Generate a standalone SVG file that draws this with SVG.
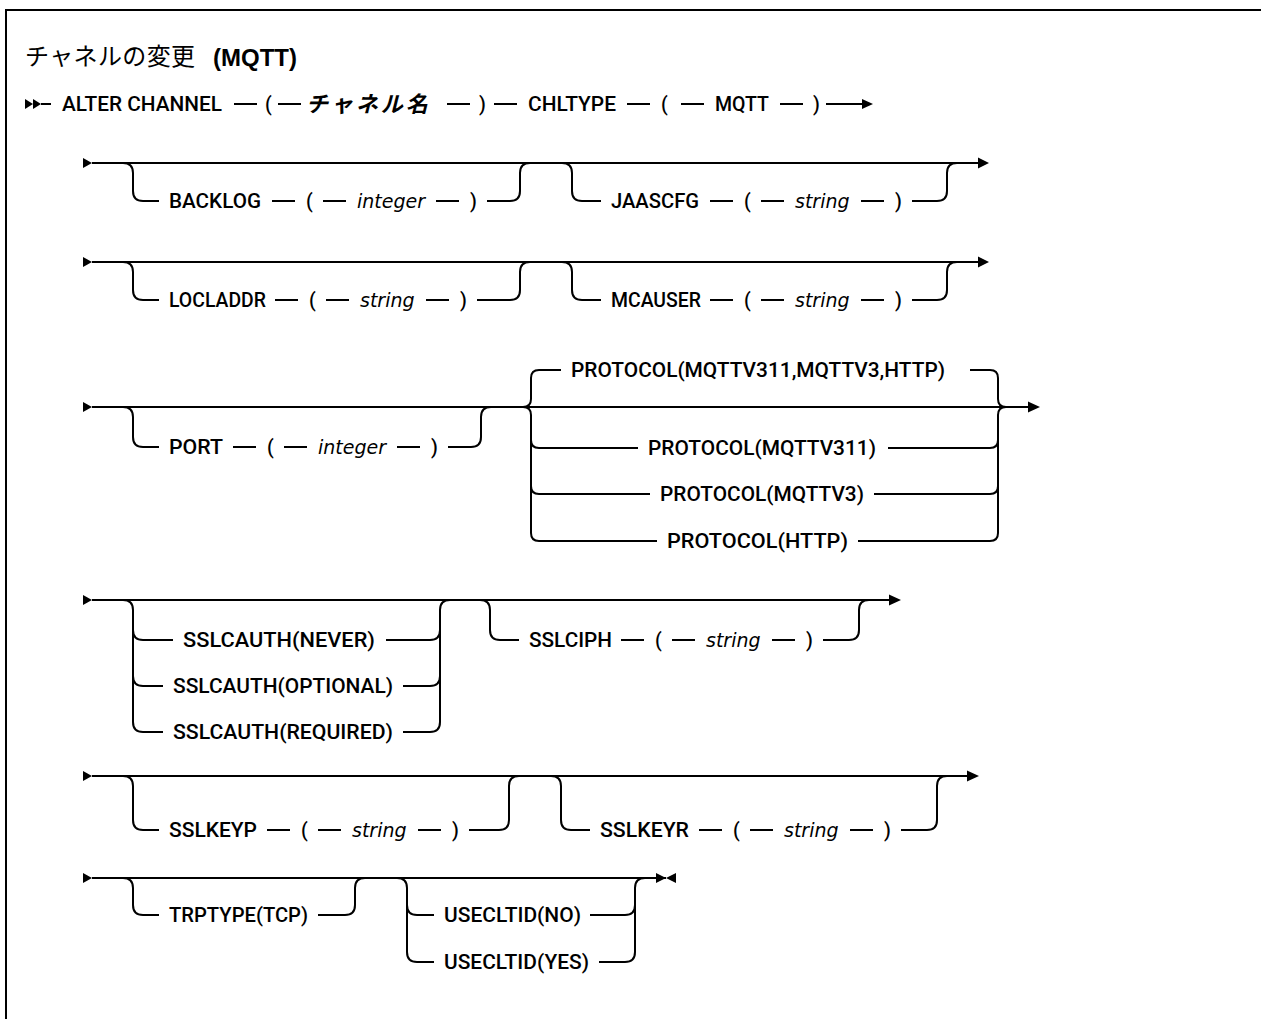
<svg xmlns="http://www.w3.org/2000/svg" width="1261" height="1019" viewBox="0 0 1261 1019">
<style>
.l{fill:none;stroke:#000;stroke-width:2}
.ah{fill:#000;stroke:none}
.t{font-family:Roboto,"Liberation Sans",Arial,sans-serif;font-weight:500;font-size:19.5px;fill:#000}
.i{font-family:"DejaVu Sans",sans-serif;font-style:italic;font-size:19px;fill:#000}
.c{font-family:"Noto Sans CJK JP",sans-serif;fill:#000}
.h{font-family:"Liberation Sans",Arial,sans-serif;font-weight:bold;font-size:24px;fill:#000}
</style>
<rect width="1261" height="1019" fill="#fff"/>
<path class="l" d="M6,1019 V10 H1261"/>

<g id="title">
<text class="c" x="25" y="65" style="font-size:24px" textLength="170">チャネルの変更</text>
<text class="h" x="213" y="66">(MQTT)</text>
</g>

<g id="connectors">
<!-- row 1 -->
<polygon class="ah" points="25,99 33,104 25,109"/>
<polygon class="ah" points="33,99 41,104 33,109"/>
<path class="l" d="M41,104 H51 M234,104 H257 M278,104 H301 M447,104 H470 M494,104 H517 M627,104 H650 M681,104 H704 M780,104 H803 M826,104 H863"/>
<polygon class="ah" points="862,99 873,104 862,109"/>

<!-- row 2 -->
<polygon class="ah" points="83,158 92,163 83,168"/>
<path class="l" d="M92,163 H978"/>
<polygon class="ah" points="978,157.5 989,163 978,168.5"/>
<path class="l" d="M123,163 Q133,163 133,173 V191 Q133,201 143,201 H159 M272,201 H295 M323,201 H346 M436,201 H459 M487,201 H510 Q520,201 520,191 V173 Q520,163 530,163"/>
<path class="l" d="M562,163 Q572,163 572,173 V191 Q572,201 582,201 H601 M710,201 H733 M761,201 H784 M861,201 H884 M912,201 H937 Q947,201 947,191 V173 Q947,163 957,163"/>

<!-- row 3 -->
<polygon class="ah" points="83,257 92,262 83,267"/>
<path class="l" d="M92,262 H978"/>
<polygon class="ah" points="978,256.5 989,262 978,267.5"/>
<path class="l" d="M123,262 Q133,262 133,272 V290 Q133,300 143,300 H159 M275,300 H298 M326,300 H349 M426,300 H449 M477,300 H510 Q520,300 520,290 V272 Q520,262 530,262"/>
<path class="l" d="M562,262 Q572,262 572,272 V290 Q572,300 582,300 H601 M710,300 H733 M761,300 H784 M861,300 H884 M912,300 H937 Q947,300 947,290 V272 Q947,262 957,262"/>

<!-- row 4 -->
<polygon class="ah" points="83,402 92,407 83,412"/>
<path class="l" d="M92,407 H1028"/>
<polygon class="ah" points="1028,401.5 1040,407 1028,412.5"/>
<path class="l" d="M123,407 Q133,407 133,417 V437 Q133,447 143,447 H159 M233,447 H256 M284,447 H307 M397,447 H420 M448,447 H471 Q481,447 481,437 V417 Q481,407 491,407"/>
<path class="l" d="M523,407 Q531,407 531,399 V378 Q531,370 539,370 H561 M523,407 Q531,407 531,415 V533 Q531,541 539,541 H657 M531,440 Q531,448 539,448 H638 M531,486 Q531,494 539,494 H650"/>
<path class="l" d="M970,370 H990 Q998,370 998,378 V399 Q998,407 1006,407 M1006,407 Q998,407 998,415 V533 Q998,541 990,541 H858 M888,448 H990 Q998,448 998,440 M874,494 H990 Q998,494 998,486"/>

<!-- row 5 -->
<polygon class="ah" points="83,595 92,600 83,605"/>
<path class="l" d="M92,600 H889"/>
<polygon class="ah" points="889,594.5 901,600 889,605.5"/>
<path class="l" d="M123,600 Q133,600 133,610 V722 Q133,732 143,732 H163 M133,630 Q133,640 143,640 H173 M133,676 Q133,686 143,686 H163"/>
<path class="l" d="M386,640 H430 Q440,640 440,630 V610 Q440,600 450,600 M403,686 H430 Q440,686 440,676 M403,732 H430 Q440,732 440,722 V630"/>
<path class="l" d="M480,600 Q490,600 490,610 V630 Q490,640 500,640 H519 M621,640 H644 M672,640 H695 M772,640 H795 M823,640 H849 Q859,640 859,630 V610 Q859,600 869,600"/>

<!-- row 6 -->
<polygon class="ah" points="83,771 92,776 83,781"/>
<path class="l" d="M92,776 H967"/>
<polygon class="ah" points="967,770.5 979,776 967,781.5"/>
<path class="l" d="M123,776 Q133,776 133,786 V820 Q133,830 143,830 H159 M267,830 H290 M318,830 H341 M418,830 H441 M469,830 H499 Q509,830 509,820 V786 Q509,776 519,776"/>
<path class="l" d="M551,776 Q561,776 561,786 V820 Q561,830 571,830 H590 M699,830 H722 M750,830 H773 M850,830 H873 M901,830 H927 Q937,830 937,820 V786 Q937,776 947,776"/>

<!-- row 7 -->
<polygon class="ah" points="83,873 92,878 83,883"/>
<path class="l" d="M92,878 H666"/>
<path class="l" d="M123,878 Q133,878 133,888 V905 Q133,915 143,915 H159 M318,915 H345 Q355,915 355,905 V888 Q355,878 365,878"/>
<path class="l" d="M397,878 Q407,878 407,888 V952 Q407,962 417,962 H434 M407,905 Q407,915 417,915 H434 M590,915 H625 Q635,915 635,905 V888 Q635,878 645,878 M599,962 H625 Q635,962 635,952 V905"/>
<polygon class="ah" points="656,873 666,878 656,883"/>
<polygon class="ah" points="676,873 666,878 676,883"/>
</g>

<g id="alter-channel">
<text class="t" x="62" y="111" textLength="160" lengthAdjust="spacingAndGlyphs">ALTER CHANNEL</text>
<text class="t" x="265" y="111">(</text>
<text class="c" x="306" y="112" style="font-size:22px;font-weight:bold;font-style:italic;letter-spacing:3px">チャネル名</text>
<text class="t" x="479" y="111">)</text>
<text class="t" x="528" y="111" textLength="88" lengthAdjust="spacingAndGlyphs">CHLTYPE</text>
<text class="t" x="661" y="111">(</text>
<text class="t" x="715" y="111" textLength="54" lengthAdjust="spacingAndGlyphs">MQTT</text>
<text class="t" x="813" y="111">)</text>
</g>

<g id="backlog">
<text class="t" x="169" y="208" textLength="92" lengthAdjust="spacingAndGlyphs">BACKLOG</text>
<text class="t" x="306" y="208">(</text>
<text class="i" x="357" y="208">integer</text>
<text class="t" x="470" y="208">)</text>
</g>
<g id="jaascfg">
<text class="t" x="611" y="208" textLength="88" lengthAdjust="spacingAndGlyphs">JAASCFG</text>
<text class="t" x="744" y="208">(</text>
<text class="i" x="795" y="208">string</text>
<text class="t" x="895" y="208">)</text>
</g>

<g id="locladdr">
<text class="t" x="169" y="307" textLength="97" lengthAdjust="spacingAndGlyphs">LOCLADDR</text>
<text class="t" x="309" y="307">(</text>
<text class="i" x="360" y="307">string</text>
<text class="t" x="460" y="307">)</text>
</g>
<g id="mcauser">
<text class="t" x="611" y="307" textLength="90" lengthAdjust="spacingAndGlyphs">MCAUSER</text>
<text class="t" x="744" y="307">(</text>
<text class="i" x="795" y="307">string</text>
<text class="t" x="895" y="307">)</text>
</g>

<g id="port">
<text class="t" x="169" y="454" textLength="54" lengthAdjust="spacingAndGlyphs">PORT</text>
<text class="t" x="267" y="454">(</text>
<text class="i" x="318" y="454">integer</text>
<text class="t" x="431" y="454">)</text>
</g>
<g id="protocol">
<text class="t" x="571" y="377" textLength="374" lengthAdjust="spacingAndGlyphs">PROTOCOL(MQTTV311,MQTTV3,HTTP)</text>
<text class="t" x="648" y="455" textLength="228" lengthAdjust="spacingAndGlyphs">PROTOCOL(MQTTV311)</text>
<text class="t" x="660" y="501" textLength="204" lengthAdjust="spacingAndGlyphs">PROTOCOL(MQTTV3)</text>
<text class="t" x="667" y="548" textLength="181" lengthAdjust="spacingAndGlyphs">PROTOCOL(HTTP)</text>
</g>

<g id="sslcauth">
<text class="t" x="183" y="647" textLength="192" lengthAdjust="spacingAndGlyphs">SSLCAUTH(NEVER)</text>
<text class="t" x="173" y="693" textLength="220" lengthAdjust="spacingAndGlyphs">SSLCAUTH(OPTIONAL)</text>
<text class="t" x="173" y="739" textLength="220" lengthAdjust="spacingAndGlyphs">SSLCAUTH(REQUIRED)</text>
</g>
<g id="sslciph">
<text class="t" x="529" y="647" textLength="83" lengthAdjust="spacingAndGlyphs">SSLCIPH</text>
<text class="t" x="655" y="647">(</text>
<text class="i" x="706" y="647">string</text>
<text class="t" x="806" y="647">)</text>
</g>

<g id="sslkeyp">
<text class="t" x="169" y="837" textLength="88" lengthAdjust="spacingAndGlyphs">SSLKEYP</text>
<text class="t" x="301" y="837">(</text>
<text class="i" x="352" y="837">string</text>
<text class="t" x="452" y="837">)</text>
</g>
<g id="sslkeyr">
<text class="t" x="600" y="837" textLength="89" lengthAdjust="spacingAndGlyphs">SSLKEYR</text>
<text class="t" x="733" y="837">(</text>
<text class="i" x="784" y="837">string</text>
<text class="t" x="884" y="837">)</text>
</g>

<g id="trptype">
<text class="t" x="169" y="922" textLength="139" lengthAdjust="spacingAndGlyphs">TRPTYPE(TCP)</text>
</g>
<g id="usecltid">
<text class="t" x="444" y="922" textLength="137" lengthAdjust="spacingAndGlyphs">USECLTID(NO)</text>
<text class="t" x="444" y="969" textLength="145" lengthAdjust="spacingAndGlyphs">USECLTID(YES)</text>
</g>
</svg>
